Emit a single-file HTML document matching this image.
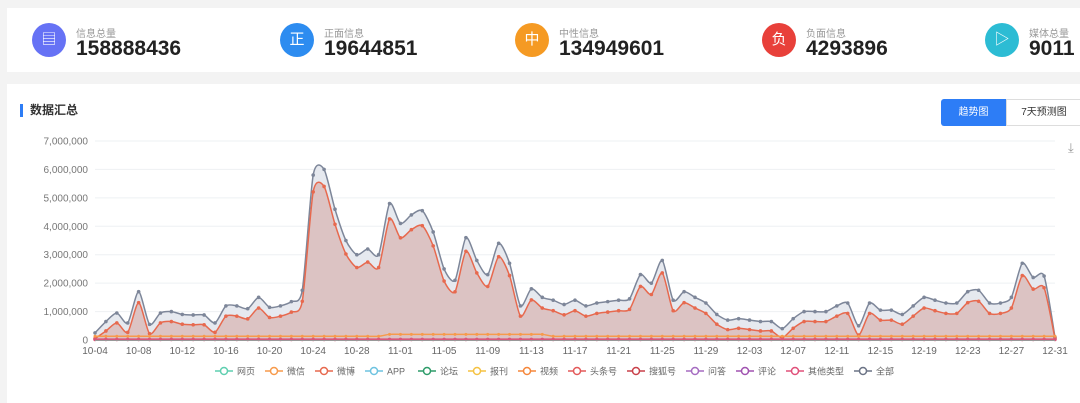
<!DOCTYPE html>
<html><head><meta charset="utf-8"><style>
body{margin:0;width:1080px;height:403px;background:#f3f3f3;font-family:"Liberation Sans","Noto Sans CJK SC",sans-serif;overflow:hidden;position:relative}
.top{position:absolute;left:7px;top:8px;width:1073px;height:64px;background:#fff}
.card{position:absolute;top:14px;height:36px}
.ic{position:absolute;left:0;top:0;width:34px;height:34px;border-radius:50%;color:#fff;font-size:15px;text-align:center;line-height:34px}
.lb{position:absolute;left:44px;top:2px;font-size:10px;color:#999;white-space:nowrap}
.v{position:absolute;left:44px;top:14px;font-size:21px;font-weight:bold;color:#222;white-space:nowrap}
.panel{position:absolute;left:7px;top:84px;width:1073px;height:319px;background:#fff}
.title{position:absolute;left:13px;top:20px;font-size:12px;font-weight:bold;color:#333;padding-left:7px;border-left:3px solid #2d7df6;line-height:13px}
.b1{position:absolute;left:934px;top:15px;width:65px;height:27px;background:#2d7df6;color:#fff;font-size:10px;text-align:center;line-height:27px;border-radius:3px 0 0 3px}
.b2{position:absolute;left:999px;top:15px;width:74px;height:25px;border:1px solid #ddd;color:#333;font-size:10px;text-align:center;line-height:25px}
svg{position:absolute;left:0;top:0}
</style></head><body>
<div class="top"></div>
<div class="card" style="left:32px;top:23px"><div class="ic" style="background:#6672f5">▤</div><div class="lb">信息总量</div><div class="v">158888436</div></div>
<div class="card" style="left:280px;top:23px"><div class="ic" style="background:#2d8cf0">正</div><div class="lb">正面信息</div><div class="v">19644851</div></div>
<div class="card" style="left:515px;top:23px"><div class="ic" style="background:#f59a23">中</div><div class="lb">中性信息</div><div class="v">134949601</div></div>
<div class="card" style="left:762px;top:23px"><div class="ic" style="background:#e8403a">负</div><div class="lb">负面信息</div><div class="v">4293896</div></div>
<div class="card" style="left:985px;top:23px"><div class="ic" style="background:#2cbcd4">▷</div><div class="lb">媒体总量</div><div class="v">9011</div></div>
<div class="panel"><div class="title">数据汇总</div><div class="b1">趋势图</div><div class="b2">7天预测图</div></div>
<svg id="s" width="1080" height="403" font-family="Liberation Sans, Noto Sans CJK SC, sans-serif"></svg>
<script>
var T=[0.25,0.65,0.95,0.6,1.7,0.55,0.95,1.0,0.9,0.88,0.9,0.88,0.6,1.2,1.2,1.1,1.5,1.15,1.2,1.35,1.75,5.8,6.0,4.6,3.5,3.0,3.2,3.0,4.8,4.1,4.4,4.55,3.8,2.5,2.1,3.6,2.8,2.3,3.4,2.7,1.2,1.8,1.5,1.25,1.4,1.2,1.3,1.35,1.4,1.45,2.3,2.0,2.8,1.4,1.7,1.5,1.3,0.9,0.7,0.75,0.7,0.65,0.65,0.4,0.75,1.0,1.0,1.0,1.2,1.3,0.5,1.3,1.05,1.05,0.9,1.2,1.5,1.4,1.3,1.3,1.7,1.75,1.3,1.3,1.5,2.7,2.2,2.25,0.1];
T.splice(10,1);T.splice(42,0,1.4);
var n=T.length,x0=95,x1=1055,st=(x1-x0)/(n-1);
function X(i){return x0+i*st}function Y(v){return 340-v*28.43}
var R=T.map(function(v,i){return i==n-1?0.05:Math.max(0.05,v*0.95-0.3)});
function path(a){var p=a.map(function(v,i){return[X(i),Y(v)]});var d="M"+p[0][0]+","+p[0][1];
for(var i=0;i<p.length-1;i++){var a0=p[i-1]||p[i],a1=p[i],a2=p[i+1],a3=p[i+2]||a2;
d+=" C"+(a1[0]+(a2[0]-a0[0])/8)+","+(a1[1]+(a2[1]-a0[1])/8)+" "+(a2[0]-(a3[0]-a1[0])/8)+","+(a2[1]-(a3[1]-a1[1])/8)+" "+a2[0]+","+a2[1];}return d}
var h="";
for(var k=0;k<=7;k++){var y=Y(k);h+='<line x1="95" x2="1055" y1="'+y+'" y2="'+y+'" stroke="#eef0f3"/>';
h+='<text x="88" y="'+(y+3.5)+'" font-size="10" fill="#777" text-anchor="end">'+(k?k+',000,000':'0')+'</text>';}
var base=" L1055,340 L95,340 Z";
h+='<path d="'+path(T)+base+'" fill="#e6e9ef"/><path d="'+path(R)+base+'" fill="#dcc3c3"/>';
h+='<path d="'+path(T)+'" fill="none" stroke="#7d8699" stroke-width="1.5"/><path d="'+path(R)+'" fill="none" stroke="#e7694e" stroke-width="1.5"/>';
var O=T.map(function(v,i){return (i>26&&i<42)?0.2:0.13}),P=T.map(function(){return 0.02});
h+='<path d="'+path(O)+'" fill="none" stroke="#f79a4b" stroke-width="1.5"/><path d="'+path(P)+'" fill="none" stroke="#d9577a" stroke-width="2"/>';
for(var i=0;i<n;i++){h+='<circle cx="'+X(i)+'" cy="'+Y(T[i])+'" r="1.8" fill="#7d8699"/><circle cx="'+X(i)+'" cy="'+Y(R[i])+'" r="1.8" fill="#e7694e"/><circle cx="'+X(i)+'" cy="'+Y(O[i])+'" r="1.5" fill="#f79a4b"/><circle cx="'+X(i)+'" cy="'+Y(0.02)+'" r="1.8" fill="#d9577a"/>';}
h+='<line x1="95" x2="1055" y1="340.5" y2="340.5" stroke="#999"/>';
var lab=["10-04","10-08","10-12","10-16","10-20","10-24","10-28","11-01","11-05","11-09","11-13","11-17","11-21","11-25","11-29","12-03","12-07","12-11","12-15","12-19","12-23","12-27","12-31"];
lab.forEach(function(l,j){h+='<text x="'+X(j*4)+'" y="354" font-size="10" fill="#666" text-anchor="middle">'+l+'</text>'});
var L=[["网页","#5fcfb0"],["微信","#f79a4b"],["微博","#e7694e"],["APP","#6ec3e0"],["论坛","#2e9c6a"],["报刊","#f5c242"],["视频","#f5873b"],["头条号","#e35a5a"],["搜狐号","#c9414a"],["问答","#a56cc1"],["评论","#a052b0"],["其他类型","#e0507a"],["全部","#6b7385"]];
var lx=215;L.forEach(function(it){h+='<line x1="'+lx+'" x2="'+(lx+18)+'" y1="371" y2="371" stroke="'+it[1]+'" stroke-width="1.5"/><circle cx="'+(lx+9)+'" cy="371" r="3.5" fill="#fff" stroke="'+it[1]+'" stroke-width="1.5"/><text x="'+(lx+22)+'" y="374.5" font-size="9" fill="#666">'+it[0]+'</text>';lx+=22+it[0].length*9+10+(it[0]=="APP"?-6:0);});
h+='<text x="1068" y="152" font-size="13" fill="#999">⤓</text>';
document.getElementById("s").innerHTML=h;
</script>
</body></html>
